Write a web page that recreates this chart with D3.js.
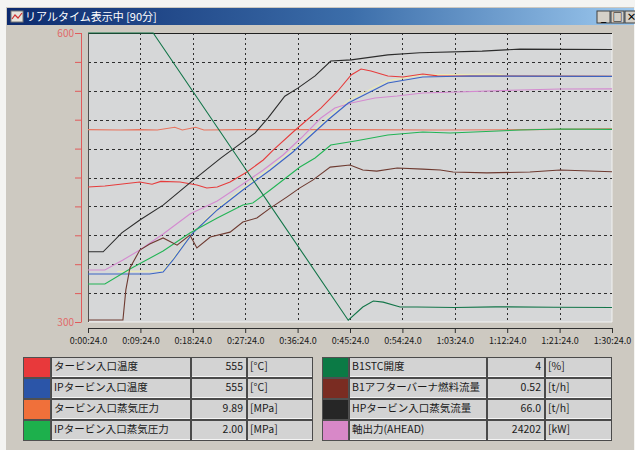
<!DOCTYPE html>
<html>
<head>
<meta charset="utf-8">
<script src="https://cdn.jsdelivr.net/npm/d3@7"></script>
<style>
  html, body { margin: 0; padding: 0; background: #f4f4f2; }
  svg { display: block; }
  text { font-family: "Noto Sans CJK JP", "DejaVu Sans", sans-serif; }
</style>
</head>
<body>
<svg id="chart" width="635" height="450"></svg>
<script>
// ---- data: [minutes since 0:00:24, value in each series' own unit] ----
const tempMain = [[0,440.1],[2.9,441.2],[8.9,445.3],[11,443],[12.5,446],[15.8,445.3],[18.7,442.2],[20.4,439.1],[22.2,440.1],[24.4,445.3],[27.3,455.7],[30.1,468.2],[31.8,478.5],[35.6,499.3],[40.0,522.1],[42.9,539.8],[45.2,556.4],[46.9,562.6],[48.6,560.5],[51.5,555.3],[54.1,554.3],[57.5,557.4],[60,555.5],[90,555]];
const tempIP = [[0,349.8],[10.6,349.8],[12.9,351.9],[14.6,364.4],[18.0,392.4],[22.2,416.3],[26.6,437.0],[31.3,457.8],[35.2,476.5],[37.8,491.0],[41.2,509.7],[44.7,527.3],[48.1,537.7],[51.5,548.1],[57.5,554.3],[65.6,555.3],[90,555]];
const tempAux = [[5,352.5],[10.6,352.8],[12.9,353.5],[14.6,366],[18.0,393.5],[22.2,418],[26.6,439],[31.3,460],[35.2,479],[41.2,512],[44.7,530],[51.5,550.5],[57.5,556.5],[70,557.5],[72,555.6],[90,555.2]];
const pressMain = [[0,9.85],[5.5,9.83],[8.9,9.85],[11.9,9.83],[14.9,9.97],[16.2,9.83],[18.5,9.97],[19.9,9.83],[26,9.85],[45,9.85],[60,9.83],[75,9.85],[90,9.89]];
const pressIP = [[0,0.394],[2.9,0.394],[7.2,0.550],[12.9,0.737],[17.5,0.924],[22.2,1.080],[26.6,1.215],[28.3,1.235],[31.3,1.370],[36.4,1.609],[39.0,1.702],[41.7,1.837],[45.9,1.879],[51.5,1.941],[57.5,1.972],[62.2,1.962],[74.2,1.993],[81.1,2.004],[90,2.00]];
const stcOpen = [[0,80],[11.2,80],[44.7,0.5],[47.2,4.15],[49.0,5.8],[50.7,5.5],[53.6,4.15],[56.5,4.15],[63,4.0],[70,4.2],[80,4.1],[90,4.0]];
const abFuel = [[0,0.007],[6.0,0.007],[6.5,0.111],[7.2,0.187],[8.9,0.249],[10.6,0.270],[12.9,0.291],[15.3,0.266],[17.5,0.301],[18.7,0.256],[21.0,0.294],[24.4,0.311],[26.6,0.346],[29.0,0.360],[31.3,0.394],[34.2,0.433],[36.4,0.464],[38.6,0.491],[41.6,0.536],[45.0,0.543],[47.2,0.526],[49.6,0.522],[53.1,0.533],[57.5,0.529],[60.5,0.526],[62.7,0.519],[68.5,0.516],[75.9,0.519],[81.1,0.526],[90,0.52]];
const hpFlow = [[0,17.0],[2.6,17.0],[5.8,21.6],[8.9,24.7],[12.9,28.3],[17.5,33.7],[22.8,39.7],[28.7,45.8],[30.9,49.4],[33.8,54.7],[36.1,56.7],[39.0,59.6],[41.7,63.2],[45.2,63.5],[51.5,64.7],[57.0,65.2],[67.7,65.6],[74.2,66.1],[90,66.0]];
const shaftPower = [[0,5398],[2.9,5398],[6.0,6436],[8.9,7474],[12.9,9134],[17.5,11210],[22.2,12560],[26.6,14324],[30.1,15778],[33.5,17335],[36.6,19099],[40.0,21175],[42.4,22213],[45.2,22732],[49.3,23251],[53.1,23458],[57.5,23770],[74.2,24081],[81.1,24185],[90,24202]];

const xTickMinutes = [0, 9, 18, 27, 36, 45, 54, 63, 72, 81, 90];
const yTickValues = [300, 330, 360, 390, 420, 450, 480, 510, 540, 570, 600];
const yLabelValues = [300, 600];

// series table: name, current reading, unit, legend colour, line colour, scale domain
const seriesNames = ["タービン入口温度", "IPタービン入口温度", "タービン入口蒸気圧力", "IPタービン入口蒸気圧力",
                     "B1STC開度", "B1アフターバーナ燃料流量", "HPタービン入口蒸気流量", "軸出力(AHEAD)"];
const seriesReadings = ["555", "555", "9.89", "2.00", "4", "0.52", "66.0", "24202"];
const seriesUnits = ["[°C]", "[°C]", "[MPa]", "[MPa]", "[%]", "[t/h]", "[t/h]", "[kW]"];
const swatchColors = ["#e8393b", "#2b55a8", "#f0703a", "#1db04c", "#0b7a45", "#7a2c22", "#262626", "#d888c8"];
const lineColors = ["#e63c3c", "#3a64c4", "#e8745e", "#22b455", "#127548", "#6e3a30", "#2c2c2c", "#d48ad0"];
const seriesData = [tempMain, tempIP, pressMain, pressIP, stcOpen, abFuel, hpFlow, shaftPower];
const seriesDomains = [[300, 600], [300, 600], [0, 14.8], [0, 3], [0, 80], [0, 1], [0, 70], [0, 30000]];

const svg = d3.select("#chart");

// ---- window frame ----
svg.append("rect").attr("x", 6).attr("y", 7).attr("width", 628).attr("height", 443).attr("fill", "#cdc9c1");
const grad = svg.append("defs").append("linearGradient").attr("id", "titleGrad");
grad.append("stop").attr("offset", "0%").attr("stop-color", "#0c2a6e");
grad.append("stop").attr("offset", "55%").attr("stop-color", "#3c6eaa");
grad.append("stop").attr("offset", "100%").attr("stop-color", "#9cc8ee");
svg.append("rect").attr("x", 7).attr("y", 8).attr("width", 627).attr("height", 17).attr("fill", "url(#titleGrad)");
// title icon
const icon = svg.append("g").attr("transform", "translate(11,11)");
icon.append("rect").attr("width", 12).attr("height", 11).attr("fill", "#e8e4dc").attr("stroke", "#777");
icon.append("path").attr("d", "M1,8 L4,4 L7,7 L11,2").attr("fill", "none").attr("stroke", "#d03030").attr("stroke-width", 1.2);
svg.append("text").attr("x", 25).attr("y", 21).attr("fill", "#fff").attr("font-size", 11)
  .text("リアルタイム表示中 [90分]");
// caption buttons
const btns = [["_", 597], ["□", 611], ["×", 625]];
btns.forEach(([s, bx]) => {
  const g = svg.append("g").attr("transform", `translate(${bx},11)`);
  g.append("rect").attr("width", 13).attr("height", 12).attr("fill", "#d4d0c8").attr("stroke", "#404040");
  g.append("text").attr("x", 6.5).attr("y", 10).attr("text-anchor", "middle").attr("font-size", 10)
    .attr("font-weight", "bold").attr("fill", "#000").text(s);
});

// ---- scales ----
const plotL = 88, plotR = 612, plotT = 33, plotB = 322;
const x = d3.scaleLinear().domain([0, 90]).range([plotL, plotR]);
const y = d3.scaleLinear().domain([300, 600]).range([plotB, plotT]);

// plot background
svg.append("rect").attr("x", plotL).attr("y", plotT).attr("width", plotR - plotL).attr("height", plotB - plotT)
  .attr("fill", "#d6d7d8");
svg.append("line").attr("x1", plotR).attr("x2", plotR).attr("y1", plotT).attr("y2", plotB).attr("stroke", "#f2f2f2");
svg.append("line").attr("x1", plotL).attr("x2", plotR).attr("y1", plotB).attr("y2", plotB).attr("stroke", "#f2f2f2");

// grid
const grid = svg.append("g");
grid.selectAll("line.v").data(xTickMinutes.slice(1, -1)).join("line")
  .attr("x1", d => Math.round(x(d)) + 0.5).attr("x2", d => Math.round(x(d)) + 0.5)
  .attr("y1", plotT).attr("y2", plotB)
  .attr("stroke", "#2e2e2e").attr("stroke-dasharray", "2,3");
grid.selectAll("line.h").data(yTickValues.slice(1, -1)).join("line")
  .attr("x1", plotL).attr("x2", plotR)
  .attr("y1", d => Math.round(y(d)) + 0.5).attr("y2", d => Math.round(y(d)) + 0.5)
  .attr("stroke", "#2e2e2e").attr("stroke-dasharray", "3,3");

// plot top/left border
svg.append("line").attr("x1", plotL).attr("x2", plotR).attr("y1", plotT + 0.5).attr("y2", plotT + 0.5).attr("stroke", "#202020");
svg.append("line").attr("x1", plotL + 0.5).attr("x2", plotL + 0.5).attr("y1", plotT).attr("y2", plotB).attr("stroke", "#505050");

// ---- series lines ----
const drawOrder = [2, 0, 7, 1, 3, 5, 6, 4];
const lines = svg.append("g");
// faint companion trace along the IP temperature
lines.append("path")
  .attr("d", d3.line().x(d => x(d[0])).y(d => y(d[1]))(tempAux))
  .attr("fill", "none").attr("stroke", "#eeeeb0").attr("stroke-width", 1);
drawOrder.forEach(i => {
  const sy = d3.scaleLinear().domain(seriesDomains[i]).range([plotB, plotT]);
  lines.append("path")
    .attr("d", d3.line().x(d => x(d[0])).y(d => sy(d[1]))(seriesData[i]))
    .attr("fill", "none").attr("stroke", lineColors[i]).attr("stroke-width", 1.1);
});

// ---- y axis (red) ----
const yAxis = d3.axisLeft(y).tickValues(yTickValues).tickSize(6).tickFormat(d => yLabelValues.includes(d) ? d : "");
const gy = svg.append("g").attr("transform", "translate(81,0)").call(yAxis);
gy.select(".domain").attr("stroke", "#e05a5a").attr("d", `M0.5,${plotT}V${plotB}`);
gy.selectAll(".tick line").attr("stroke", "#e05a5a").attr("x1", 0.5);
gy.selectAll(".tick text").attr("fill", "#e06a6a").attr("font-size", 10)
  .attr("font-family", "'Liberation Sans', Arial, sans-serif").attr("x", -7);

// ---- x axis ----
const fmtTime = m => {
  const s = Math.round(m * 60 + 24);
  const h = Math.floor(s / 3600), mm = Math.floor((s % 3600) / 60), ss = s % 60;
  return `${h}:${String(mm).padStart(2, "0")}:${String(ss).padStart(2, "0")}.0`;
};
const xAxis = d3.axisBottom(x).tickValues(xTickMinutes).tickSize(5).tickFormat(fmtTime);
const gx = svg.append("g").attr("transform", "translate(0,328)").call(xAxis);
gx.select(".domain").attr("stroke", "#303030").attr("d", `M${plotL},0.5H${plotR}`);
gx.selectAll(".tick line").attr("stroke", "#303030");
gx.selectAll(".tick text").attr("fill", "#1a1a1a").attr("font-size", 9)
  .attr("font-family", "'Liberation Sans', Arial, sans-serif").attr("dy", "0.9em");

// ---- reading table ----
const rowY = [357, 378, 399, 420], rowH = 21;
const cols = [
  { sw: 23, swW: 28, name: 51, nameW: 140, val: 191, valW: 56, unit: 247, unitW: 66 },
  { sw: 322, swW: 27, name: 349, nameW: 138, val: 487, valW: 58, unit: 545, unitW: 67 }
];
const table = svg.append("g");
const cell = (cx, cy, w, h, fill) => {
  table.append("rect").attr("x", cx + 0.5).attr("y", cy + 0.5).attr("width", w - 1).attr("height", h - 1)
    .attr("fill", fill).attr("stroke", "#4a4a4a");
  table.append("line").attr("x1", cx + 1).attr("x2", cx + w - 1).attr("y1", cy + h - 1.5).attr("y2", cy + h - 1.5)
    .attr("stroke", "#f4f4f4");
};
seriesNames.forEach((name, i) => {
  const c = cols[Math.floor(i / 4)], ry = rowY[i % 4];
  table.append("rect").attr("x", c.sw + 0.5).attr("y", ry + 0.5).attr("width", c.swW - 1).attr("height", rowH - 1)
    .attr("fill", swatchColors[i]).attr("stroke", "#505050");
  cell(c.name, ry, c.nameW, rowH, "#d3d3d3");
  cell(c.val, ry, c.valW, rowH, "#d3d3d3");
  cell(c.unit, ry, c.unitW, rowH, "#d3d3d3");
  table.append("text").attr("x", c.name + 3).attr("y", ry + 13).attr("font-size", 10.5).attr("fill", "#1a1a1a").text(name);
  table.append("text").attr("x", c.val + c.valW - 4).attr("y", ry + 13).attr("text-anchor", "end")
    .attr("font-size", 10.5).attr("fill", "#1a1a1a").text(seriesReadings[i]);
  table.append("text").attr("x", c.unit + 3).attr("y", ry + 13).attr("font-size", 10.5).attr("fill", "#1a1a1a").text(seriesUnits[i]);
});
</script>
</body>
</html>
